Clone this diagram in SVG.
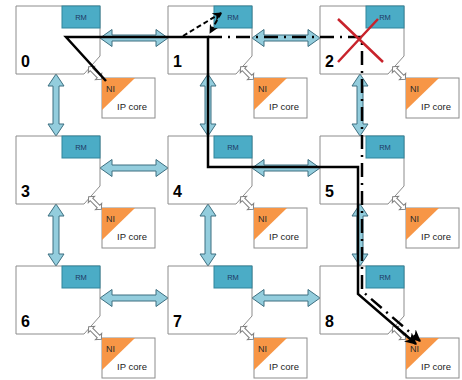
<svg xmlns="http://www.w3.org/2000/svg" width="462" height="380" viewBox="0 0 462 380">
  <defs>
    <style>
      .router { fill: #ffffff; stroke: #8c8c8c; stroke-width: 1; }
      .rm { fill: #4bacc6; stroke: #31859c; stroke-width: 1; }
      .rmtxt { font-family: "Liberation Sans", Arial, sans-serif; font-size: 7.5px; fill: #1f3864; text-anchor: middle; }
      .num { font-family: "Liberation Sans", Arial, sans-serif; font-size: 16px; font-weight: bold; fill: #000; }
      .ip { fill: #ffffff; stroke: #8c8c8c; stroke-width: 1; }
      .ni { fill: #f79646; stroke: none; }
      .nitxt { font-family: "Liberation Sans", Arial, sans-serif; font-size: 9px; fill: #2b2b2b; }
      .iptxt { font-family: "Liberation Sans", Arial, sans-serif; font-size: 9.5px; fill: #222; }
      .link { fill: #93cddd; stroke: #3d6f80; stroke-width: 1; }
      .niLink { fill: #ffffff; stroke: #808080; stroke-width: 1; }
      .route { fill: none; stroke: #000; stroke-width: 2.5; stroke-linejoin: miter; }
      .alt { fill: none; stroke: #000; stroke-width: 2.5; stroke-dasharray: 14 6 2 6; }
      .probe { fill: none; stroke: #000; stroke-width: 2; stroke-dasharray: 5 3; }
      .fault { fill: none; stroke: #c8232c; stroke-width: 2.5; }
    </style>
    <marker id="headBig" viewBox="0 0 10 10" refX="9" refY="5" markerWidth="12" markerHeight="12" markerUnits="userSpaceOnUse" orient="auto">
      <path d="M0,0 L10,5 L0,10 L3,5 Z" fill="#000"/>
    </marker>
    <marker id="headSmall" viewBox="0 0 10 10" refX="9" refY="5" markerWidth="9" markerHeight="9" markerUnits="userSpaceOnUse" orient="auto">
      <path d="M0,0 L10,5 L0,10 L3,5 Z" fill="#000"/>
    </marker>
    <!-- horizontal router-to-router link, 68 long -->
    <path id="hLink" class="link" d="M0,0 L12,-8.5 L12,-3 L56,-3 L56,-8.5 L68,0 L56,8.5 L56,3 L12,3 L12,8.5 Z"/>
    <!-- vertical router-to-router link, 62 long -->
    <path id="vLink" class="link" d="M0,0 L-8,12 L-3,12 L-3,50 L-8,50 L0,62 L8,50 L3,50 L3,12 L8,12 Z"/>
    <!-- router-to-NI link -->
    <path id="nLink" class="niLink" d="M-9,0 L-5,-4.5 L-5,-1.8 L5,-1.8 L5,-4.5 L9,0 L5,4.5 L5,1.8 L-5,1.8 L-5,4.5 Z"/>
    <!-- one tile: router, RM, IP core with NI -->
    <g id="tile">
      <path class="router" d="M0,0 H84 V50 L68,68 H0 Z"/>
      <rect class="rm" x="46" y="0" width="38" height="22"/>
      <text class="rmtxt" x="65" y="14">RM</text>
      <rect class="ip" x="86" y="72" width="53" height="40"/>
      <polygon class="ni" points="86,72 119,72 86,104"/>
      <text class="nitxt" x="90" y="86">NI</text>
      <text class="iptxt" x="101" y="104">IP core</text>
      <use href="#nLink" transform="translate(79,67) rotate(45)"/>
    </g>
  </defs>

  <g id="links">
    <use href="#hLink" x="100" y="38"/>
    <use href="#hLink" x="252" y="38"/>
    <use href="#hLink" x="100" y="168"/>
    <use href="#hLink" x="252" y="168"/>
    <use href="#hLink" x="100" y="298"/>
    <use href="#hLink" x="252" y="298"/>
    <use href="#vLink" x="56" y="74"/>
    <use href="#vLink" x="208" y="74"/>
    <use href="#vLink" x="360" y="74"/>
    <use href="#vLink" x="56" y="204"/>
    <use href="#vLink" x="208" y="204"/>
    <use href="#vLink" x="360" y="204"/>
  </g>

  <g id="node0"><use href="#tile" x="16" y="6"/><text class="num" x="21" y="67">0</text></g>
  <g id="node1"><use href="#tile" x="168" y="6"/><text class="num" x="173" y="67">1</text></g>
  <g id="node2"><use href="#tile" x="320" y="6"/><text class="num" x="325" y="67">2</text></g>
  <g id="node3"><use href="#tile" x="16" y="136"/><text class="num" x="21" y="197">3</text></g>
  <g id="node4"><use href="#tile" x="168" y="136"/><text class="num" x="173" y="197">4</text></g>
  <g id="node5"><use href="#tile" x="320" y="136"/><text class="num" x="325" y="197">5</text></g>
  <g id="node6"><use href="#tile" x="16" y="266"/><text class="num" x="21" y="327">6</text></g>
  <g id="node7"><use href="#tile" x="168" y="266"/><text class="num" x="173" y="327">7</text></g>
  <g id="node8"><use href="#tile" x="320" y="266"/><text class="num" x="325" y="327">8</text></g>

  <g id="routes">
    <!-- original route 0 -> 1 -> 4 -> 5 -> 8 -->
    <path class="route" d="M106,81 L66,37 L208,37 L208,167 L358,167 L358,294 L416,344" marker-end="url(#headBig)"/>
    <!-- rerouted path through the failed router -->
    <path class="alt" d="M208,37 L362,37 L362,291 L420,341" marker-end="url(#headBig)"/>
    <!-- RM query and reply at router 1 -->
    <path class="probe" d="M183,36 L221,13" marker-end="url(#headSmall)"/>
    <path class="probe" d="M221,13 L210,33" marker-end="url(#headSmall)"/>
  </g>

  <g id="fault">
    <path class="fault" d="M338,19 L383,62 M378,19 L338,62"/>
  </g>
</svg>
